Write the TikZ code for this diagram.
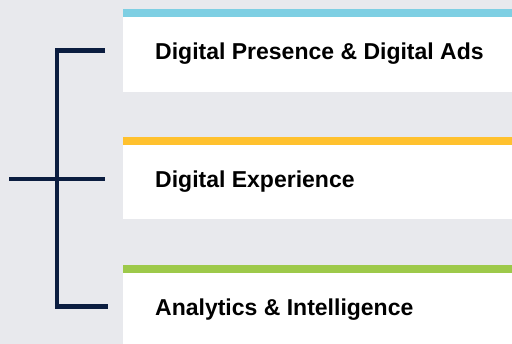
\documentclass[tikz,border=0pt]{standalone}
\usepackage{fontspec}
\setmainfont{Liberation Sans}
\definecolor{bgc}{HTML}{E8E9ED}
\definecolor{navy}{HTML}{0B1D40}
\definecolor{barblue}{HTML}{7ECFE3}
\definecolor{baryellow}{HTML}{FFC12E}
\definecolor{bargreen}{HTML}{9DC94A}
\begin{document}
\begin{tikzpicture}[x=1pt,y=-1pt,
  label/.style={anchor=base west,inner sep=0pt,font=\bfseries\fontsize{23}{25}\selectfont,text=black},
  bracket/.style={draw=navy,line width=4.6pt}]
\fill[bgc] (0,0) rectangle (512,344);
\useasboundingbox (0,0) rectangle (512,344);
% cards
\fill[white] (123,17) rectangle (512,92);
\fill[barblue] (123,9.5) rectangle (512,17.3);
\fill[white] (123,145.3) rectangle (512,219.3);
\fill[baryellow] (123,137.3) rectangle (512,145.3);
\fill[white] (123,273.3) rectangle (512,344);
\fill[bargreen] (123,265.3) rectangle (512,273.3);
\node[label] (t1) at (155,59.5) {Digital Presence \& Digital Ads};
\node[label] (t2) at (155,187.8) {Digital Experience};
\node[label] (t3) at (155,315.5) {Analytics \& Intelligence};
% bracket
\coordinate (top) at (56.8,50.7);
\coordinate (topend) at (105,50.7);
\coordinate (mid) at (56.8,179);
\coordinate (midstart) at (9,179);
\coordinate (midend) at (105,179);
\coordinate (bot) at (56.8,306.7);
\coordinate (botend) at (107.7,306.7);
\draw[bracket] (topend) -- (top) -- (bot) -- (botend);
\draw[bracket] (midstart) -- (midend);
\end{tikzpicture}
\end{document}
